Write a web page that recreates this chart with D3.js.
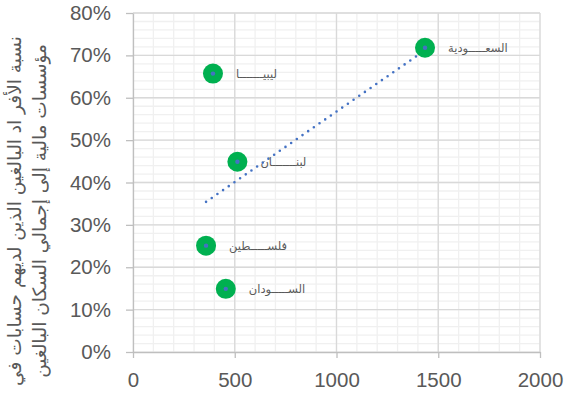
<!DOCTYPE html>
<html><head><meta charset="utf-8">
<script src="https://cdn.jsdelivr.net/npm/d3@7"></script>
<style>body{margin:0;background:#fff}svg{display:block}</style>
</head><body>
<svg id="c" width="565" height="400"></svg>
<script>
const countries = ["السعـــــودية","ليبيـــــــا","لبنـــــــان","فلســـــطين","الســـــودان"];
const xValues = [1435, 393, 513, 359, 456];
const yValues = [0.718, 0.657, 0.449, 0.251, 0.149];
const xTicks = [0, 500, 1000, 1500, 2000];
const yTicks = [0, 0.1, 0.2, 0.3, 0.4, 0.5, 0.6, 0.7, 0.8];
const yTitle = ["نسبة الأفر اد البالغين الذين لديهم حسابات في", "مؤسسات مالية إلى إجمالي السكان البالغين"];

const svg = d3.select("#c");
const L = 133, R = 540, T = 13, B = 352;
const x = d3.scaleLinear().domain([0, 2000]).range([L, R]);
const y = d3.scaleLinear().domain([0, 0.8]).range([B, T]);

// minor grid
const g = svg.append("g");
g.selectAll(".mx").data(d3.range(0, 2001, 100)).enter().append("line")
  .attr("x1", d => x(d)).attr("x2", d => x(d)).attr("y1", T).attr("y2", B)
  .attr("stroke", "#f0f0f0").attr("stroke-width", 1.3);
g.selectAll(".my").data(d3.range(0, 41, 1).map(i => i * 0.02)).enter().append("line")
  .attr("y1", d => y(d)).attr("y2", d => y(d)).attr("x1", L).attr("x2", R)
  .attr("stroke", "#f0f0f0").attr("stroke-width", 1.3);
// major grid
g.selectAll(".Mx").data(xTicks.slice(1)).enter().append("line")
  .attr("x1", d => x(d)).attr("x2", d => x(d)).attr("y1", T).attr("y2", B)
  .attr("stroke", "#d9d9d9").attr("stroke-width", 1.3);
g.selectAll(".My").data(yTicks.slice(1)).enter().append("line")
  .attr("y1", d => y(d)).attr("y2", d => y(d)).attr("x1", L).attr("x2", R)
  .attr("stroke", "#d9d9d9").attr("stroke-width", 1.3);

// axes
const xAxis = d3.axisBottom(x).tickValues(xTicks).tickFormat(d3.format("d")).tickSizeInner(6).tickSizeOuter(0).tickPadding(14);
const yAxis = d3.axisLeft(y).tickValues(yTicks).tickFormat(d3.format(".0%")).tickSizeInner(7).tickSizeOuter(0).tickPadding(15);
const ax = svg.append("g").attr("transform", `translate(0,${B})`).call(xAxis);
const ay = svg.append("g").attr("transform", `translate(${L},0)`).call(yAxis);
[ax, ay].forEach(a => {
  a.selectAll("path,line").attr("stroke", "#bfbfbf").attr("stroke-width", 1.3);
  a.selectAll("text").attr("fill", "#595959").attr("font-family", "Liberation Sans, Arial, sans-serif").attr("font-size", 20.5);
});

// trendline (least squares)
const mx = d3.mean(xValues), my = d3.mean(yValues);
const slope = d3.sum(xValues, (v, i) => (v - mx) * (yValues[i] - my)) / d3.sum(xValues, v => (v - mx) ** 2);
const icpt = my - slope * mx;
const ext = d3.extent(xValues);
svg.append("line")
  .attr("x1", x(ext[0])).attr("y1", y(icpt + slope * ext[0]))
  .attr("x2", x(ext[1])).attr("y2", y(icpt + slope * ext[1]))
  .attr("stroke", "#4472c4").attr("stroke-width", 2.6)
  .attr("stroke-linecap", "round").attr("stroke-dasharray", "0 6.9");

// points
const pts = svg.append("g").selectAll("g").data(xValues).enter().append("g");
pts.append("circle").attr("cx", (d) => x(d)).attr("cy", (d, i) => y(yValues[i])).attr("r", 10).attr("fill", "#00b050");
pts.append("circle").attr("cx", (d) => x(d)).attr("cy", (d, i) => y(yValues[i])).attr("r", 2.2).attr("fill", "#4472c4");

// labels
svg.append("g").selectAll("text").data(countries).enter().append("text")
  .attr("x", (d, i) => x(xValues[i]) + 23).attr("y", (d, i) => y(yValues[i]) + 4)
  .attr("text-anchor", "start")
  .attr("font-family", "DejaVu Sans, sans-serif").attr("font-size", 11.5)
  .attr("fill", "#595959").text(d => d);

// y title
const tt = svg.append("text").attr("transform", "translate(0,211) rotate(-90)")
  .attr("text-anchor", "middle").attr("font-family", "DejaVu Sans, Noto Sans, sans-serif")
  .attr("font-size", 18.5).attr("fill", "#595959");
tt.selectAll("tspan").data(yTitle).enter().append("tspan")
  .attr("x", 0).attr("y", (d, i) => 21 + i * 25).text(d => d);
</script>
</body></html>
